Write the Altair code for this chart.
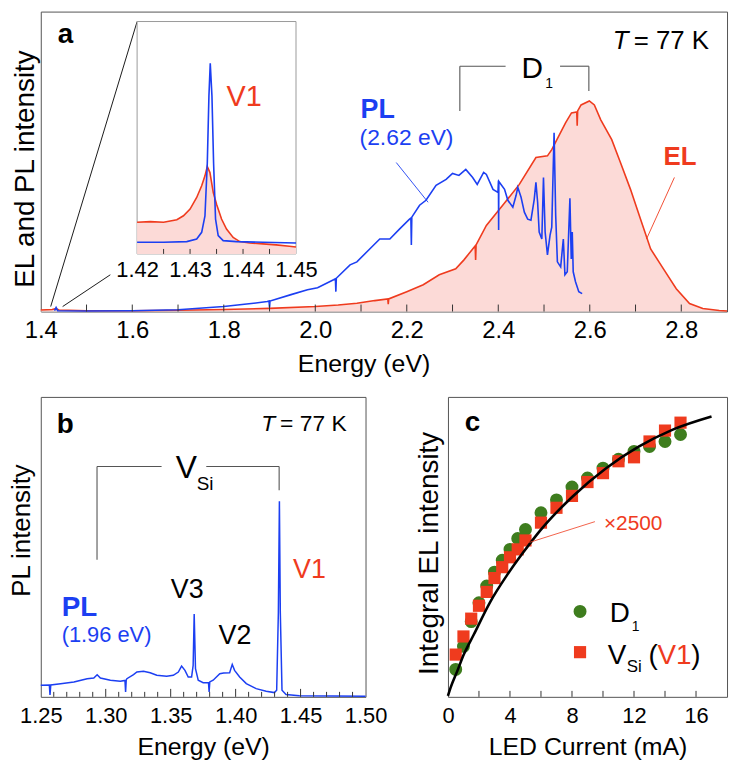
import altair as alt
import pandas as pd

FONT = "Liberation Sans"
BLUE = "#1c3ff2"
RED = "#ef3b1e"
PINK = "#fcdad7"
GREEN = "#3e7d1e"
FRAME = "#555555"
BRACKET = "#555555"
TICK = "#333333"

# ---------------- panel a : EL / PL spectra ----------------
EL_E = [1.400, 1.425, 1.433, 1.440, 1.50, 1.60, 1.70, 1.80, 1.90, 2.00, 2.05, 2.091, 2.13,
        2.1585, 2.1595, 2.1605, 2.20, 2.236, 2.271, 2.307, 2.325, 2.344, 2.3495, 2.3505, 2.3515,
        2.374, 2.415, 2.446, 2.4823, 2.5075, 2.5169, 2.547, 2.560, 2.5715, 2.5725, 2.5735,
        2.581, 2.599, 2.610, 2.624, 2.648, 2.667, 2.689, 2.711, 2.733, 2.761, 2.789, 2.818,
        2.847, 2.883, 2.900]
EL_I = [1.5, 2.0, 3.0, 1.5, 0.8, 0.8, 1.2, 2.0, 3.2, 5.0, 6.5, 8.3, 11.0,
        12.6, 7.5, 12.7, 20, 27, 37, 43, 52, 63, 66, 52, 67,
        86.7, 110, 128, 155, 156.7, 163, 190, 200, 201, 187, 202,
        208, 212, 208, 193, 173, 150, 123, 93, 63, 43, 23, 8,
        3, 1, 0.5]

PL_E = [1.430, 1.4335, 1.437, 1.50, 1.60, 1.70, 1.80, 1.85, 1.895, 1.899, 1.900, 1.901, 1.947,
        1.983, 2.005, 2.040, 2.044, 2.045, 2.046, 2.076, 2.091, 2.119, 2.141, 2.163, 2.184,
        2.206, 2.209, 2.210, 2.211, 2.228, 2.242, 2.264, 2.286, 2.300, 2.314, 2.329, 2.344,
        2.354, 2.368, 2.374, 2.3885, 2.3993, 2.4004, 2.4008, 2.4012, 2.4137, 2.4209, 2.4318,
        2.4390, 2.4426, 2.4498, 2.4570, 2.4643, 2.4714, 2.4786, 2.4823, 2.4860, 2.4894, 2.4952,
        2.4988, 2.5024, 2.5075, 2.5132, 2.5169, 2.5220, 2.5255, 2.5292, 2.5364, 2.5422, 2.5457,
        2.5508, 2.5566, 2.5595, 2.5617, 2.5638, 2.5688, 2.5760, 2.5833]
PL_I = [0.8, 4, 0.8, 0.5, 0.7, 1.7, 5, 7.5, 10, 10.5, 4, 10.6, 17,
        22, 24, 32, 33, 20, 33.5, 47, 50, 63, 73, 73, 83,
        93, 94, 67, 95, 107, 112, 127, 133, 139, 137, 143, 135,
        128, 140, 138, 123, 120, 132, 82, 131, 123, 112, 105,
        117, 125, 115, 100, 93, 92, 113, 130, 110, 80, 73,
        135, 80, 57, 77, 85, 180, 97, 50, 45, 73, 37,
        40, 114, 53, 80, 40, 30, 20, 18]

A_LABELS = [1.4, 1.6, 1.8, 2.0, 2.2, 2.4, 2.6, 2.8]
A_TICKS = [1.5, 1.6, 1.7, 1.8, 1.9, 2.0, 2.1, 2.2, 2.3, 2.4, 2.5, 2.6, 2.7, 2.8]

# inset of panel a (V1 line)
IN_EL_E = [1.4200, 1.4225, 1.4250, 1.4275, 1.42875, 1.4300, 1.43125, 1.43219, 1.43281, 1.43325,
           1.43375, 1.43438, 1.4350, 1.43594, 1.43688, 1.43813, 1.43938, 1.44125, 1.44375,
           1.44625, 1.44875, 1.4500]
IN_EL_I = [13.6, 13.9, 13.6, 14.7, 16.4, 19.3, 24.3, 29.3, 33.6, 37.6,
           35.0, 26.4, 21.4, 15.0, 10.7, 7.1, 5.3, 4.7, 4.3,
           3.9, 3.3, 3.0]
IN_PL_E = [1.4200, 1.4250, 1.42938, 1.43125, 1.43219, 1.43281, 1.43325, 1.43356, 1.43381,
           1.43413, 1.43444, 1.43481, 1.43531, 1.43625, 1.43875, 1.44375, 1.4500]
IN_PL_I = [5.0, 5.0, 5.3, 6.4, 9.3, 16.4, 39, 68, 82,
           68, 39, 15, 7.9, 5.7, 5.3, 5.0, 4.7]
IN_LABELS = [1.42, 1.43, 1.44, 1.45]
IN_TICKS = [1.425, 1.430, 1.435, 1.440, 1.445]

# ---------------- panel b : PL spectrum ----------------
B_E = [1.2500, 1.2566, 1.2571, 1.2577, 1.2653, 1.2755, 1.2857, 1.2908, 1.2934, 1.2959, 1.3036,
       1.3112, 1.3148, 1.3153, 1.3158, 1.3163, 1.3214, 1.3240, 1.3291, 1.3342, 1.3393, 1.3469,
       1.3520, 1.3559, 1.3584, 1.3610, 1.3635, 1.3661, 1.3673, 1.3681, 1.3691, 1.3712, 1.3750,
       1.3791, 1.3796, 1.3801, 1.3827, 1.3878, 1.3908, 1.3954, 1.3974, 1.3992, 1.4031, 1.4082,
       1.4158, 1.4235, 1.4298, 1.4316, 1.4329, 1.4337, 1.4344, 1.4357, 1.4388, 1.4490, 1.5000]
B_I = [11.7, 12.0, 2.0, 12.0, 13.3, 15.0, 18.3, 19.0, 22.3, 19.0, 16.7,
       15.7, 16.5, 5.0, 17.0, 18.3, 22.3, 25.0, 25.7, 24.3, 21.7, 20.7,
       21.7, 25.0, 31.0, 26.7, 20.0, 20.0, 31.7, 83.3, 28.3, 16.7, 14.3,
       14.5, 5.0, 15.0, 16.7, 23.3, 24.0, 24.3, 32.7, 26.7, 20.0, 13.3,
       8.3, 5.7, 4.3, 6.7, 85.0, 197.0, 85.0, 6.7, 2.3, 1.0, 0.7]
B_LABELS = [1.25, 1.30, 1.35, 1.40, 1.45, 1.50]
B_MAJOR = [1.30, 1.35, 1.40, 1.45]
B_MINOR = [1.26, 1.27, 1.28, 1.29, 1.31, 1.32, 1.33, 1.34, 1.36, 1.37, 1.38, 1.39,
           1.41, 1.42, 1.43, 1.44, 1.46, 1.47, 1.48, 1.49]

# ---------------- panel c : integral EL vs current ----------------
C_CURRENT = [0.5, 1, 1.5, 2, 2.5, 3, 3.5, 4, 4.5, 5, 6, 7, 8, 9, 10, 11, 12, 13, 14, 15]
C_D1 = [27.7, 51, 76, 95, 112, 126, 138, 149, 160, 169, 186, 199, 212, 221, 231, 240, 248, 253, 258, 265]
C_VSI = [42.7, 61, 79, 92, 106, 120, 131, 141, 149, 158, 176, 191, 203, 217, 226, 238, 242, 258, 269, 277]
FIT_X = [0, 0.17, 0.6, 1.02, 1.66, 2.73, 3.8, 4.86, 5.93, 8.06, 10.2, 12.3, 14.5, 17.0]
FIT_Y = [1, 9.3, 26, 42.7, 62.7, 96, 122.7, 146, 167.7, 202.7, 231, 252.7, 270, 283.3]
C_LABELS = [0, 4, 8, 12, 16]
C_TICKS = [2, 4, 6, 8, 10, 12, 14, 16]

# annotation segments (data coordinates): x, y, x2, y2
ZOOM_LINES = [(1.4217, 5, 1.6106, 292), (1.4478, 5, 1.552, 37)]
D1_BRACKET = [(2.316, 202, 2.316, 247), (2.316, 247, 2.416, 247),
              (2.535, 247, 2.598, 247), (2.598, 247, 2.598, 222)]
PL_POINTER = [(2.177, 150, 2.2466, 110)]
EL_POINTER = [(2.785, 135, 2.724, 73)]
VSI_BRACKET = [(1.2933, 138, 1.2933, 232), (1.2933, 232, 1.343, 232),
               (1.3774, 232, 1.4335, 232), (1.4335, 232, 1.4335, 208)]
X2500_POINTER = [(9.48, 177, 5.25, 156)]

W_A, H_A = 691, 302
W_B, H_B = 327, 302
W_C, H_C = 281, 302
OA = (40, 8)
OB = (40, 396)
OC = (450, 396)


def curve(xs, ys):
    return pd.DataFrame({"x": xs, "y": ys, "b": [0] * len(xs)})


def label(s, x, y, origin, size, color="black", weight="normal", style="normal"):
    return alt.Chart(pd.DataFrame({"t": [s]})).mark_text(
        text=s, font=FONT, fontSize=size, color=color, fontWeight=weight,
        fontStyle=style, align="left", baseline="alphabetic"
    ).encode(x=alt.value(x - origin[0]), y=alt.value(y - origin[1]))


def segments(rows, X, Y, color, width):
    d = pd.DataFrame(rows, columns=["x", "y", "x2", "y2"])
    return alt.Chart(d).mark_rule(color=color, strokeWidth=width).encode(
        x=X, y=Y, x2="x2", y2="y2")


def ticks(vals, X, base, length):
    return alt.Chart(pd.DataFrame({"x": vals})).mark_rule(color=TICK, strokeWidth=1).encode(
        x=X, y=alt.value(base), y2=alt.value(base - length))


def xaxis(title, values, fmt, lsize, lpad, tpad, **kw):
    return alt.Axis(title=title, values=values, format=fmt, ticks=False, domain=False,
                    grid=False, labelFontSize=lsize, titleFontSize=25, labelPadding=lpad,
                    titlePadding=tpad, labelFlush=False, labelOverlap=False, **kw)


def yaxis(title, size, pad, ty):
    return alt.Axis(title=title, labels=False, ticks=False, domain=False, grid=False,
                    titleFontSize=size, titlePadding=pad, titleY=ty)


# ---- panel a
XA = alt.X("x:Q", scale=alt.Scale(domain=[1.4, 2.9], nice=False, zero=False),
           axis=xaxis("Energy (eV)", A_LABELS, ".1f", 24, 7, 9, titleX=325))
YA = alt.Y("y:Q", scale=alt.Scale(domain=[0, 302], nice=False, zero=False),
           axis=yaxis("EL and PL intensity", 28, 1, 158))

el = curve(EL_E, EL_I)
pl = curve(PL_E, PL_I)
main_a = alt.layer(
    alt.Chart(el).mark_area(color=PINK, opacity=1).encode(x=XA, y=YA, y2="b"),
    alt.Chart(el).mark_line(color=RED, strokeWidth=1.6).encode(x=XA, y=YA),
    alt.Chart(pl).mark_line(color=BLUE, strokeWidth=1.6).encode(x=XA, y=YA),
    ticks(A_TICKS, XA, H_A, 7),
    segments(ZOOM_LINES, XA, YA, "black", 0.9),
    segments(D1_BRACKET, XA, YA, BRACKET, 1.1),
    segments(PL_POINTER, XA, YA, BLUE, 0.9),
    segments(EL_POINTER, XA, YA, RED, 0.9),
)

XI = alt.X("x:Q", scale=alt.Scale(domain=[1.42, 1.45], range=[97, 257], nice=False, zero=False),
           axis=alt.Axis(orient="bottom", offset=-58, values=IN_LABELS, format=".2f",
                         ticks=False, domain=False, grid=False, labelFontSize=22,
                         labelPadding=6, title=None, labelFlush=False, labelOverlap=False))
YI = alt.Y("y:Q", scale=alt.Scale(domain=[0, 100], range=[244, 10], nice=False, zero=False),
           axis=None)
in_el = curve(IN_EL_E, IN_EL_I)
in_pl = curve(IN_PL_E, IN_PL_I)
box = pd.DataFrame({"x": [IN_LABELS[0]], "x2": [IN_LABELS[-1]], "y": [0], "y2": [100]})
inset_a = alt.layer(
    alt.Chart(box).mark_rect(fill="white", stroke="#9a9a9a", strokeWidth=1).encode(
        x=XI, x2="x2", y=YI, y2="y2"),
    alt.Chart(in_el).mark_area(color=PINK, opacity=1).encode(x=XI, y=YI, y2="b"),
    alt.Chart(in_el).mark_line(color=RED, strokeWidth=1.6).encode(x=XI, y=YI),
    alt.Chart(in_pl).mark_line(color=BLUE, strokeWidth=1.6).encode(x=XI, y=YI),
    ticks(IN_TICKS, XI, 244, 5),
)

texts_a = [
    label("a", 57, 40, OA, 28, weight="bold"),
    label("T", 616, 46, OA, 26, style="italic"),
    label("= 77 K", 637, 46, OA, 26),
    label("D", 524, 75, OA, 30),
    label("1", 548, 85, OA, 14),
    label("PL", 362, 115, OA, 27, color=BLUE, weight="bold"),
    label("(2.62 eV)", 361, 142, OA, 23, color=BLUE),
    label("EL", 667, 162, OA, 26, color=RED, weight="bold"),
    label("V1", 227, 103, OA, 29, color=RED),
]

panel_a = alt.layer(main_a, inset_a, *texts_a).resolve_scale(
    x="independent", y="independent").properties(width=W_A, height=H_A)

# ---- panel b
XB = alt.X("x:Q", scale=alt.Scale(domain=[1.25, 1.5], nice=False, zero=False),
           axis=xaxis("Energy (eV)", B_LABELS, ".2f", 22, 9, 8))
YB = alt.Y("y:Q", scale=alt.Scale(domain=[0, 302], nice=False, zero=False),
           axis=yaxis("PL intensity", 26, 6, 134))
pb = curve(B_E, B_I)
panel_b = alt.layer(
    alt.Chart(pb).mark_line(color=BLUE, strokeWidth=1.5).encode(x=XB, y=YB),
    ticks(B_MINOR, XB, H_B, 5),
    ticks(B_MAJOR, XB, H_B, 8),
    segments(VSI_BRACKET, XB, YB, BRACKET, 1.1),
    label("b", 56, 432, OB, 28, weight="bold"),
    label("T", 262, 430, OB, 23, style="italic"),
    label("= 77 K", 281, 430, OB, 23),
    label("V", 176, 478, OB, 32),
    label("Si", 197, 490, OB, 19),
    label("V3", 171, 598, OB, 27),
    label("V2", 219, 645, OB, 27),
    label("V1", 294, 578, OB, 27, color=RED),
    label("PL", 61, 617, OB, 28, color=BLUE, weight="bold"),
    label("(1.96 eV)", 61, 643, OB, 22, color=BLUE),
).properties(width=W_B, height=H_B)

# ---- panel c
XC = alt.X("x:Q", scale=alt.Scale(domain=[0, 18], nice=False, zero=False),
           axis=xaxis("LED Current (mA)", C_LABELS, "d", 22, 9, 8))
YC = alt.Y("y:Q", scale=alt.Scale(domain=[0, 303], nice=False, zero=False),
           axis=yaxis("Integral EL intensity", 28, 5, 157))
d1 = pd.DataFrame({"x": C_CURRENT, "y": C_D1})
vsi = pd.DataFrame({"x": C_CURRENT, "y": C_VSI})
fit = pd.DataFrame({"x": FIT_X, "y": FIT_Y})
one = pd.DataFrame({"t": [0]})
panel_c = alt.layer(
    alt.Chart(d1).mark_circle(color=GREEN, size=170, opacity=1).encode(x=XC, y=YC),
    alt.Chart(vsi).mark_square(color=RED, size=150, opacity=1).encode(x=XC, y=YC),
    alt.Chart(fit).mark_line(color="black", strokeWidth=2.6, interpolate="monotone").encode(x=XC, y=YC),
    ticks(C_TICKS, XC, H_C, 6),
    segments(X2500_POINTER, XC, YC, RED, 0.8),
    alt.Chart(one).mark_circle(color=GREEN, size=170, opacity=1).encode(
        x=alt.value(583 - OC[0]), y=alt.value(612 - OC[1])),
    alt.Chart(one).mark_square(color=RED, size=150, opacity=1).encode(
        x=alt.value(583 - OC[0]), y=alt.value(653 - OC[1])),
    label("c", 467, 430, OC, 28, weight="bold"),
    label("\u00d72500", 607, 530, OC, 21, color=RED),
    label("D", 613, 623, OC, 28),
    label("1", 635, 632, OC, 14),
    label("V", 611, 665, OC, 28),
    label("Si", 630, 673, OC, 17),
    label("(", 652, 665, OC, 28),
    label("V1", 661, 665, OC, 28, color=RED),
    label(")", 695, 665, OC, 28),
).properties(width=W_C, height=H_C)

bottom = alt.hconcat(panel_b, panel_c, spacing=83, bounds="flush")
chart = alt.vconcat(panel_a, bottom, spacing=86, bounds="flush").properties(
    padding=0, background="white"
).configure_view(stroke=FRAME, strokeWidth=1).configure_axis(
    labelFont=FONT, titleFont=FONT, labelColor="black", titleColor="black",
    titleFontWeight="normal"
)

chart.save("out.html", embed_options={"renderer": "svg", "actions": False})
